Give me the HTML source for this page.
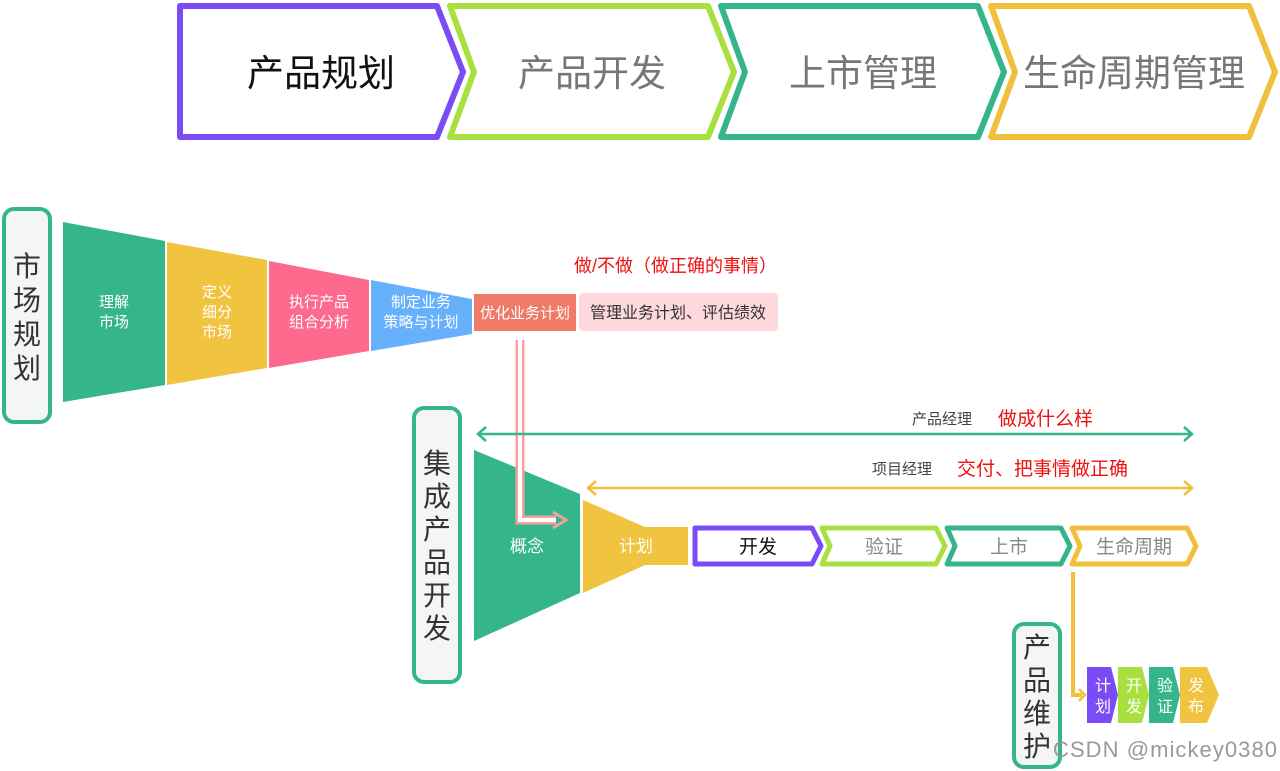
<!DOCTYPE html>
<html><head><meta charset="utf-8"><style>
html,body{margin:0;padding:0;background:#fff;}
svg{display:block;font-family:"Liberation Sans","Noto Sans CJK SC",sans-serif;}
</style></head><body>
<svg width="1280" height="771" viewBox="0 0 1280 771" xmlns="http://www.w3.org/2000/svg">
<g stroke-width="6" fill="#fff" stroke-linejoin="round">
<path d="M180,6 L437,6 L463,72 L437,137 L180,137 Z" stroke="#7b4cf6"/>
<path d="M450,6 L708,6 L734,72 L708,137 L450,137 L474,72 Z" stroke="#a8e040"/>
<path d="M721,6 L978,6 L1004,72 L978,137 L721,137 L745,72 Z" stroke="#35b58c"/>
<path d="M991,6 L1249,6 L1275,72 L1249,137 L991,137 L1015,72 Z" stroke="#f0c03c"/>
</g>
<g font-size="37" text-anchor="middle">
<text x="321" y="86" fill="#111">产品规划</text>
<text x="592" y="86" fill="#777">产品开发</text>
<text x="863" y="86" fill="#777">上市管理</text>
<text x="1134" y="86" fill="#777">生命周期管理</text>
</g>
<g fill="#f3f6f4" stroke="#35b58c" stroke-width="4">
<rect x="4" y="209" width="46" height="213" rx="10"/>
<rect x="414" y="408" width="46" height="274" rx="10"/>
<rect x="1014" y="624" width="46" height="143" rx="10"/>
</g>
<g font-size="28" fill="#333" text-anchor="middle">
<text x="27" y="276">市</text><text x="27" y="310">场</text><text x="27" y="344">规</text><text x="27" y="378">划</text>
<text x="437" y="473">集</text><text x="437" y="506">成</text><text x="437" y="539">产</text><text x="437" y="572">品</text><text x="437" y="605">开</text><text x="437" y="638">发</text>
<text x="1037" y="657">产</text><text x="1037" y="690">品</text><text x="1037" y="723">维</text><text x="1037" y="756">护</text>
</g>
<path d="M63,222 L165,241 L165,385 L63,402 Z" fill="#35b58c"/>
<path d="M167,242 L267,260 L267,368 L167,385 Z" fill="#f0c43e"/>
<path d="M269,261 L369,280 L369,351 L269,368 Z" fill="#fe6a8e"/>
<path d="M371,280 L472,299 L472,334 L371,351 Z" fill="#66b0fc"/>
<g font-size="15" fill="#fff" text-anchor="middle">
<text x="114" y="307">理解</text><text x="114" y="327">市场</text>
<text x="217" y="297">定义</text><text x="217" y="317">细分</text><text x="217" y="337">市场</text>
<text x="319" y="307">执行产品</text><text x="319" y="327">组合分析</text>
<text x="421" y="307">制定业务</text><text x="421" y="327">策略与计划</text>
</g>
<rect x="474" y="294" width="102" height="37" fill="#f07a68"/>
<text x="525" y="318" font-size="15" fill="#fff" text-anchor="middle">优化业务计划</text>
<rect x="579" y="293" width="199" height="38" rx="3" fill="#fdd9dd"/>
<text x="678" y="318" font-size="16" fill="#333" text-anchor="middle">管理业务计划、评估绩效</text>
<text x="574" y="272" font-size="18" fill="#ee1111">做/不做（做正确的事情）</text>
<path d="M474,450 L580,494 L580,593 L474,641 Z" fill="#35b58c"/>
<text x="527" y="552" font-size="17" fill="#fff" text-anchor="middle">概念</text>
<path d="M583,500 L645,527 L688,527 L688,565 L645,565 L583,593 Z" fill="#f0c43e"/>
<text x="636" y="552" font-size="17" fill="#fff" text-anchor="middle">计划</text>
<path d="M520,340 L520,520 L556,520" fill="none" stroke="#f7a0a0" stroke-width="9"/>
<path d="M520,340 L520,520 L556,520" fill="none" stroke="#fff" stroke-width="4"/>
<path d="M553,512 L566,520 L553,528" fill="none" stroke="#f7a0a0" stroke-width="3"/>
<g stroke-width="5" fill="#fff" stroke-linejoin="round">
<path d="M695,528 L812,528 L821,546 L812,564 L695,564 Z" stroke="#7b4cf6"/>
<path d="M822,528 L936,528 L945,546 L936,564 L822,564 L830,546 Z" stroke="#a8e040"/>
<path d="M947,528 L1061,528 L1070,546 L1061,564 L947,564 L955,546 Z" stroke="#35b58c"/>
<path d="M1072,528 L1187,528 L1196,546 L1187,564 L1072,564 L1080,546 Z" stroke="#f0c03c"/>
</g>
<g font-size="19" text-anchor="middle">
<text x="758" y="553" fill="#111">开发</text>
<text x="884" y="553" fill="#888">验证</text>
<text x="1009" y="553" fill="#888">上市</text>
<text x="1134" y="553" fill="#888">生命周期</text>
</g>
<g fill="none" stroke-width="2.5">
<path d="M479,434 L1191,434 M486,427 L478,434 L486,441 M1184,427 L1192,434 L1184,441" stroke="#35b58c"/>
<path d="M589,488 L1191,488 M596,481 L588,488 L596,495 M1184,481 L1192,488 L1184,495" stroke="#f0c03c"/>
</g>
<text x="912" y="424" font-size="15" fill="#444">产品经理</text>
<text x="998" y="425" font-size="19" fill="#ee1111">做成什么样</text>
<text x="872" y="474" font-size="15" fill="#444">项目经理</text>
<text x="957" y="475" font-size="19" fill="#ee1111">交付、把事情做正确</text>
<path d="M1073,572 L1073,695 L1082,695" fill="none" stroke="#f0c03c" stroke-width="4"/>
<path d="M1079,689 L1085,695 L1079,701" fill="none" stroke="#f0c03c" stroke-width="2.5"/>
<path d="M1087,667 L1111,667 L1118,695 L1111,723 L1087,723 Z" fill="#7b4cf6"/>
<path d="M1118,667 L1142,667 L1149,695 L1142,723 L1118,723 Z" fill="#a8e040"/>
<path d="M1149,667 L1173,667 L1180,695 L1173,723 L1149,723 Z" fill="#35b58c"/>
<path d="M1180,667 L1207,667 L1219,695 L1207,723 L1180,723 Z" fill="#f0c43e"/>
<g font-size="16" fill="#fff" text-anchor="middle">
<text x="1103" y="691">计</text><text x="1103" y="712">划</text>
<text x="1134" y="691">开</text><text x="1134" y="712">发</text>
<text x="1165" y="691">验</text><text x="1165" y="712">证</text>
<text x="1196" y="691">发</text><text x="1196" y="712">布</text>
</g>
<text x="1053" y="757" font-size="22" fill="#999" textLength="224">CSDN @mickey0380</text>
</svg>
</body></html>
